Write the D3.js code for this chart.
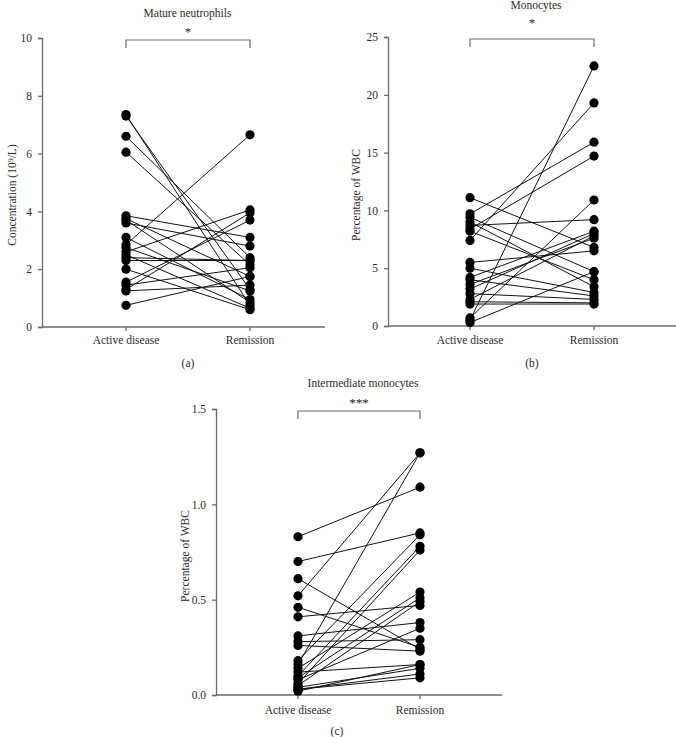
<!DOCTYPE html>
<html>
<head>
<meta charset="utf-8">
<script src="https://cdn.jsdelivr.net/npm/d3@7"></script>
<style>
  html, body { margin: 0; padding: 0; background: #fff; }
  svg { display: block; }
  svg text { font-family: "Liberation Serif", "DejaVu Serif", serif; }
</style>
</head>
<body>
<svg id="chart" width="676" height="737"></svg>
<script>
// ---- Data ----
const groups = ["Active disease", "Remission"];

// Panel (a) Mature neutrophils, concentration (10^9/L)
const neutroActive    = [7.35, 7.30, 6.60, 6.05, 3.85, 3.75, 3.70, 3.60, 3.10, 2.85, 2.75, 2.60, 2.50, 2.40, 2.30, 2.00, 1.55, 1.45, 1.30, 1.25, 0.75];
const neutroRemission = [0.75, 1.30, 2.40, 2.15, 3.10, 1.75, 0.85, 2.80, 0.95, 6.65, 1.25, 4.05, 0.65, 2.30, 2.30, 0.60, 3.70, 2.05, 3.95, 1.45, 1.75];
const neutroTicks = [0, 2, 4, 6, 8, 10];

// Panel (b) Monocytes, percentage of WBC
const monoActive    = [11.1, 9.7, 9.4, 9.0, 8.7, 8.4, 8.2, 7.4, 5.5, 5.0, 4.2, 4.0, 3.6, 3.2, 2.8, 2.3, 2.1, 1.9, 0.7, 0.5, 0.3];
const monoRemission = [6.8, 15.9, 4.7, 3.4, 9.2, 14.7, 4.0, 19.3, 6.5, 2.9, 8.2, 2.6, 7.6, 8.0, 2.3, 7.8, 2.0, 1.9, 10.9, 22.5, 4.7];
const monoTicks = [0, 5, 10, 15, 20, 25];

// Panel (c) Intermediate monocytes, percentage of WBC
const interActive    = [0.83, 0.70, 0.61, 0.52, 0.46, 0.41, 0.31, 0.28, 0.26, 0.18, 0.16, 0.14, 0.12, 0.10, 0.09, 0.08, 0.06, 0.05, 0.04, 0.03, 0.03, 0.02];
const interRemission = [1.09, 0.85, 0.24, 1.27, 0.25, 0.47, 0.38, 0.29, 0.23, 0.84, 1.27, 0.54, 0.16, 0.78, 0.51, 0.35, 0.76, 0.49, 0.14, 0.11, 0.09, 0.16];
const interTicks = [0.0, 0.5, 1.0, 1.5];

const panels = [
  { title: "Mature neutrophils", ylabel: "Concentration (10⁹/L)", sig: "*", letter: "(a)",
    active: neutroActive, remission: neutroRemission, ticks: neutroTicks, max: 10, fmt: d3.format("d"),
    x0: 42, x1: 325, yTop: 38, yBot: 327, cat0: 126, cat1: 250, titleY: 17, sigY: 36, ylabelX: 12, ylabelY: 195,
    catY: 344, letterX: 188, letterY: 367 },
  { title: "Monocytes", ylabel: "Percentage of WBC", sig: "*", letter: "(b)",
    active: monoActive, remission: monoRemission, ticks: monoTicks, max: 25, fmt: d3.format("d"),
    x0: 388, x1: 676, yTop: 37, yBot: 326, cat0: 470, cat1: 594, titleY: 9, sigY: 27, ylabelX: 356, ylabelY: 195,
    catY: 344, letterX: 532, letterY: 367 },
  { title: "Intermediate monocytes", ylabel: "Percentage of WBC", sig: "***", letter: "(c)",
    active: interActive, remission: interRemission, ticks: interTicks, max: 1.5, fmt: d3.format(".1f"),
    x0: 216, x1: 502, yTop: 409, yBot: 695, cat0: 298, cat1: 420, titleY: 387, sigY: 407, ylabelX: 185, ylabelY: 556,
    catY: 714, letterX: 337, letterY: 735 }
];

const svg = d3.select("#chart");
const axisColor = "#6b6b6b";
const textColor = "#2b2b2b";
const FONT = "Liberation Serif, DejaVu Serif, serif";

panels.forEach(p => {
  const g = svg.append("g");
  const x = d3.scalePoint().domain(groups).range([p.cat0, p.cat1]);
  const y = d3.scaleLinear().domain([0, p.max]).range([p.yBot, p.yTop]);

  // y axis
  const yAxis = d3.axisLeft(y).tickValues(p.ticks).tickFormat(p.fmt).tickSizeOuter(0).tickSize(4).tickPadding(6);
  const ya = g.append("g").attr("transform", `translate(${p.x0},0)`).call(yAxis).attr("font-family", FONT);
  ya.select(".domain").attr("stroke", axisColor).attr("stroke-width", 1.3);
  ya.selectAll(".tick line").attr("stroke", axisColor).attr("stroke-width", 1.3);
  ya.selectAll(".tick text").attr("fill", textColor).attr("font-family", FONT).style("font-size", "11.5px");

  // x axis
  g.append("line").attr("x1", p.x0).attr("x2", p.x1).attr("y1", p.yBot).attr("y2", p.yBot)
    .attr("stroke", axisColor).attr("stroke-width", 1.3);
  g.selectAll(".xt").data(groups).enter().append("line")
    .attr("x1", d => x(d)).attr("x2", d => x(d)).attr("y1", p.yBot).attr("y2", p.yBot + 4)
    .attr("stroke", axisColor).attr("stroke-width", 1.3);
  g.selectAll(".xl").data(groups).enter().append("text")
    .attr("x", d => x(d)).attr("y", p.catY).attr("text-anchor", "middle").attr("font-family", FONT)
    .attr("fill", textColor).style("font-size", "11.5px").text(d => d);

  // lines between pairs
  const pairs = p.active.map((v, i) => [v, p.remission[i]]);
  g.selectAll(".pl").data(pairs).enter().append("line")
    .attr("x1", x(groups[0])).attr("x2", x(groups[1]))
    .attr("y1", d => y(d[0])).attr("y2", d => y(d[1]))
    .attr("stroke", "#111").attr("stroke-width", 1);

  // dots
  g.selectAll(".da").data(p.active).enter().append("circle")
    .attr("cx", x(groups[0])).attr("cy", d => y(d)).attr("r", 4.6).attr("fill", "#000");
  g.selectAll(".dr").data(p.remission).enter().append("circle")
    .attr("cx", x(groups[1])).attr("cy", d => y(d)).attr("r", 4.6).attr("fill", "#000");

  // significance bracket
  const by = p.yTop + 2;
  g.append("path")
    .attr("d", `M${x(groups[0])},${by + 8}V${by}H${x(groups[1])}V${by + 8}`)
    .attr("fill", "none").attr("stroke", axisColor).attr("stroke-width", 1.2);
  g.append("text").attr("x", (x(groups[0]) + x(groups[1])) / 2).attr("y", p.sigY)
    .attr("text-anchor", "middle").attr("font-family", FONT).attr("fill", "#222").style("font-size", "13px").text(p.sig);

  // title
  g.append("text").attr("x", (p.x0 + p.x1) / 2 + 4).attr("y", p.titleY)
    .attr("text-anchor", "middle").attr("font-family", FONT).attr("fill", textColor).style("font-size", "11.5px").text(p.title);

  // y label
  g.append("text").attr("transform", `translate(${p.ylabelX},${p.ylabelY}) rotate(-90)`)
    .attr("text-anchor", "middle").attr("dy", "0.35em").attr("font-family", FONT)
    .attr("fill", textColor).style("font-size", "11.5px").text(p.ylabel);

  // panel letter
  g.append("text").attr("x", p.letterX).attr("y", p.letterY)
    .attr("text-anchor", "middle").attr("font-family", FONT).attr("fill", textColor).style("font-size", "11.5px").text(p.letter);
});
</script>
</body>
</html>
